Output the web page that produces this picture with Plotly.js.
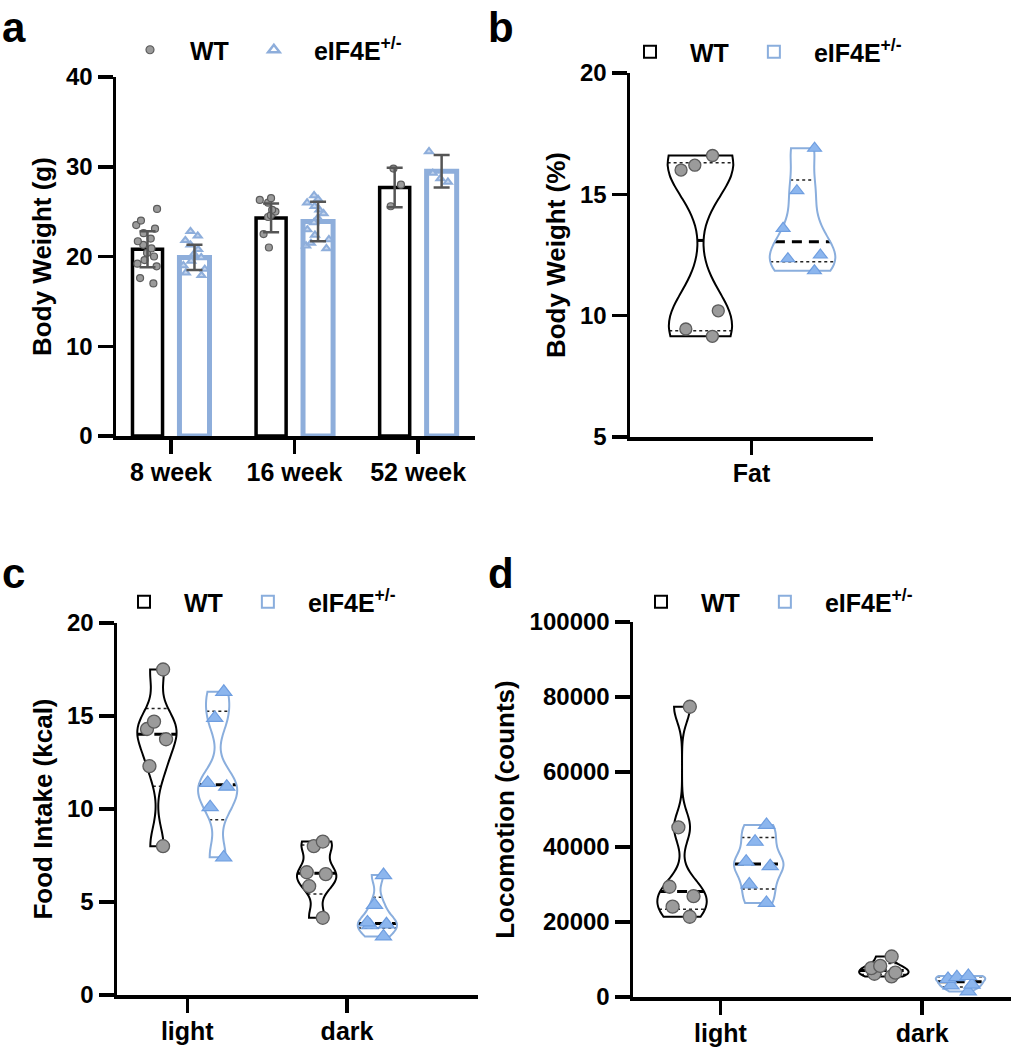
<!DOCTYPE html>
<html>
<head>
<meta charset="utf-8">
<script src="https://cdn.plot.ly/plotly-3.0.1.min.js"></script>
<style>
  body { margin: 0; background: #fff; }
  #chart { width: 1011px; height: 1050px; }
</style>
</head>
<body>
<div id="chart"></div>
<script>
// panel a: body weight per age (individual mice, bar mean, SD)
const ages = ['8 week', '16 week', '52 week'];
const wtWeight = [
  [25.3, 24.0, 23.5, 23.1, 22.6, 22.0, 21.7, 21.3, 20.9, 20.4, 20.0, 19.6, 19.2, 18.9, 17.6, 17.0],
  [26.5, 26.3, 26.0, 25.2, 25.0, 24.6, 24.4, 22.5, 21.0],
  [29.8, 28.0, 25.6]
];
const mutWeight = [
  [22.8, 22.3, 21.8, 21.3, 20.8, 20.3, 19.9, 19.5, 19.0, 18.6, 18.2, 17.9],
  [26.8, 26.4, 26.0, 25.6, 25.2, 24.8, 24.3, 23.8, 23.0, 22.4, 21.9, 21.5, 21.2, 20.9],
  [31.7, 29.3, 28.7, 28.3]
];
const wtMean = [20.8, 24.3, 27.7];
const wtSD = [2.0, 1.6, 2.2];
const mutMean = [19.9, 23.9, 29.5];
const mutSD = [1.4, 2.2, 1.8];

// panel b: fat as % of body weight
const fatLabels = ['Fat'];
const fatWT = [[16.6, 16.2, 16.0, 10.2, 9.45, 9.15]];
const fatMut = [[16.9, 15.15, 13.6, 12.5, 12.35, 11.85]];

// panel c: food intake (kcal)
const periods = ['light', 'dark'];
const foodWT = [[17.5, 14.7, 14.3, 13.75, 12.3, 8.0], [8.25, 8.0, 6.6, 6.5, 5.85, 4.15]];
const foodMut = [[16.3, 14.9, 11.4, 11.2, 10.1, 7.4], [6.45, 4.85, 3.9, 3.8, 3.75, 3.15]];

// panel d: locomotion (counts)
const locoWT = [[77400, 45250, 29400, 26900, 24100, 21400], [10800, 8300, 7700, 6500, 6200, 5500]];
const locoMut = [[45900, 41400, 36100, 34900, 30000, 25100], [5600, 5300, 4800, 3300, 3100, 1500]];

const FONT = 'Liberation Sans, Arial, sans-serif';
const GRAY_FILL = '#9b9b9b', GRAY_LINE = '#5c5c5c';
const BLUE_BAR = '#8eaedb', BLUE_VIO = '#8aaedd';
const TRI_FILL = '#8cb6ee', TRI_LINE = '#6f9ee0';
const ERR = '#555555';
const legendName = ['WT', 'eIF4E<sup>+/-</sup>'];

let traces = [];
let shapes = [];

// ---- panel a ----
const aOff = 0.19;
traces.push({
  type: 'bar', x: ages.map((_, i) => i), y: wtMean, xaxis: 'x', yaxis: 'y',
  marker: {color: 'rgba(255,255,255,0)', line: {color: '#000', width: 3.5}},
  showlegend: false, hoverinfo: 'skip'
});
traces.push({
  type: 'bar', x: ages.map((_, i) => i), y: mutMean, xaxis: 'x', yaxis: 'y',
  marker: {color: 'rgba(255,255,255,0)', line: {color: BLUE_BAR, width: 5}},
  showlegend: false, hoverinfo: 'skip'
});

function flatX(groups) { return groups.flatMap((g, i) => g.map(() => i)); }
traces.push({
  type: 'box', x: flatX(wtWeight), y: wtWeight.flat(), xaxis: 'x', yaxis: 'y',
  boxpoints: 'all', jitter: 0.9, pointpos: 0,
  line: {color: 'rgba(0,0,0,0)', width: 0}, fillcolor: 'rgba(0,0,0,0)',
  marker: {symbol: 'circle', size: 7, color: GRAY_FILL, line: {color: GRAY_LINE, width: 1.2}},
  showlegend: false, hoverinfo: 'skip'
});
traces.push({
  type: 'box', x: flatX(mutWeight), y: mutWeight.flat(), xaxis: 'x', yaxis: 'y',
  boxpoints: 'all', jitter: 0.9, pointpos: 0,
  line: {color: 'rgba(0,0,0,0)', width: 0}, fillcolor: 'rgba(0,0,0,0)',
  marker: {symbol: 'triangle-up', size: 7, color: '#c4d5ee', line: {color: BLUE_BAR, width: 2}},
  showlegend: false, hoverinfo: 'skip'
});
// SD error bars on top of the points
[[wtMean, wtSD, -aOff], [mutMean, mutSD, aOff]].forEach(([m, sd, off]) => {
  traces.push({
    type: 'scatter', mode: 'markers', x: m.map((_, i) => i + off), y: m,
    xaxis: 'x', yaxis: 'y', marker: {size: 1, opacity: 0},
    error_y: {type: 'data', array: sd, visible: true, color: ERR, thickness: 2.5, width: 8},
    showlegend: false, hoverinfo: 'skip'
  });
});
// legend entries for panel a
traces.push({
  type: 'scatter', mode: 'markers', x: [null], y: [null], xaxis: 'x', yaxis: 'y',
  name: legendName[0], legend: 'legend',
  marker: {symbol: 'circle', size: 8, color: GRAY_FILL, line: {color: GRAY_LINE, width: 1.2}}
});
traces.push({
  type: 'scatter', mode: 'markers', x: [null], y: [null], xaxis: 'x', yaxis: 'y',
  name: legendName[1], legend: 'legend',
  marker: {symbol: 'triangle-up-open', size: 10, color: BLUE_BAR, line: {color: BLUE_BAR, width: 2.5}}
});

// ---- violin helpers ----
function kdeFn(vals, bw) {
  return t => vals.reduce((s, v) => s + Math.exp(-0.5 * ((t - v) / bw) ** 2), 0);
}
function halfWidthFn(vals, bw, halfW) {
  const f = kdeFn(vals, bw);
  const lo = Math.min(...vals), hi = Math.max(...vals);
  const n = Math.ceil((hi - lo) / (bw / 3)), step = (hi - lo) / n;
  let maxK = 0;
  for (let k = 0; k <= n; k++) maxK = Math.max(maxK, f(lo + k * step));
  return t => halfW * f(t) / maxK;
}
// quartiles the (n+1) way, as the original software does
function quantile(vals, p) {
  const s = [...vals].sort((a, b) => a - b), n = s.length;
  const r = p * (n + 1) - 1, i = Math.floor(r), fr = r - i;
  if (i < 0) return s[0];
  if (i >= n - 1) return s[n - 1];
  return s[i] + fr * (s[i + 1] - s[i]);
}

let vid = 0;
function addViolins(groups, opts) {
  groups.forEach((vals, i) => {
    const c = i + opts.off;
    const bw = opts.bw[i];
    traces.push({
      type: 'violin', x0: c, y: vals, xaxis: opts.xa, yaxis: opts.ya,
      width: opts.width, bandwidth: bw, spanmode: 'hard', side: 'both',
      scalemode: 'width', scalegroup: 'v' + (vid++),
      line: {color: opts.lineColor, width: opts.lineWidth},
      fillcolor: 'rgba(255,255,255,0)',
      points: 'all', pointpos: 0, jitter: opts.jitter,
      marker: opts.marker,
      box: {visible: false}, meanline: {visible: false},
      name: opts.name, legend: opts.legend, legendgroup: opts.legend + opts.name,
      showlegend: i === 0, hoverinfo: 'skip'
    });
    const hw = halfWidthFn(vals, bw, opts.width / 2);
    const seg = (y, style) => {
      const w = hw(y);
      shapes.push({
        type: 'line', xref: opts.xa, yref: opts.ya, layer: 'below',
        x0: c - w, x1: c + w, y0: y, y1: y, line: style
      });
    };
    seg(quantile(vals, 0.25), {color: '#222', width: 1.5, dash: 'dot'});
    seg(quantile(vals, 0.75), {color: '#222', width: 1.5, dash: 'dot'});
    seg(quantile(vals, 0.5), {color: '#000', width: 3, dash: '10px,7px'});
  });
}

const circleMarker = {symbol: 'circle', size: 13, color: GRAY_FILL, line: {color: GRAY_LINE, width: 1.3}};
const triMarker = {symbol: 'triangle-up', size: 14, color: TRI_FILL, line: {color: TRI_LINE, width: 1.2}};

// ---- panel b ----
addViolins(fatWT, {xa: 'x2', ya: 'y2', off: -0.21, width: 0.27, bw: [1.3], jitter: 0.7,
  lineColor: '#000', lineWidth: 2, marker: {...circleMarker, size: 12}, name: legendName[0], legend: 'legend2'});
addViolins(fatMut, {xa: 'x2', ya: 'y2', off: 0.21, width: 0.27, bw: [0.8], jitter: 0.7,
  lineColor: BLUE_VIO, lineWidth: 2, marker: {...triMarker, size: 12}, name: legendName[1], legend: 'legend2'});

// ---- panel c ----
addViolins(foodWT, {xa: 'x3', ya: 'y3', off: -0.19, width: 0.245, bw: [1.0, 0.6], jitter: 0.6,
  lineColor: '#000', lineWidth: 2, marker: circleMarker, name: legendName[0], legend: 'legend3'});
addViolins(foodMut, {xa: 'x3', ya: 'y3', off: 0.19, width: 0.245, bw: [0.9, 0.5], jitter: 0.6,
  lineColor: BLUE_VIO, lineWidth: 2, marker: triMarker, name: legendName[1], legend: 'legend3'});

// ---- panel d ----
addViolins(locoWT, {xa: 'x4', ya: 'y4', off: -0.19, width: 0.245, bw: [4000, 1200], jitter: 0.6,
  lineColor: '#000', lineWidth: 2, marker: circleMarker, name: legendName[0], legend: 'legend4'});
addViolins(locoMut, {xa: 'x4', ya: 'y4', off: 0.19, width: 0.245, bw: [3000, 1000], jitter: 0.6,
  lineColor: BLUE_VIO, lineWidth: 2, marker: triMarker, name: legendName[1], legend: 'legend4'});

// ---- layout ----
const W = 1011, H = 1050;
const px = v => v / W, py = v => 1 - v / H;

function xAxis(left, right, range, labels, anchor) {
  return {
    domain: [px(left), px(right)], range: range, anchor: anchor,
    tickvals: labels.map((_, i) => i), ticktext: labels,
    tickfont: {size: 25},
    showline: true, linecolor: '#000', linewidth: 3.5,
    ticks: 'outside', ticklen: 14, tickwidth: 3.5, tickcolor: '#000',
    ticklabelstandoff: -3,
    showgrid: false, zeroline: false, fixedrange: true
  };
}
function yAxis(top, bottom, range, dtick, title, anchor, extra) {
  return Object.assign({
    domain: [py(bottom), py(top)], range: range, dtick: dtick, anchor: anchor,
    title: {text: title, standoff: 8, font: {size: 26}},
    tickfont: {size: 24},
    showline: true, linecolor: '#000', linewidth: 3.5,
    ticks: 'outside', ticklen: 15, tickwidth: 3.5, tickcolor: '#000',
    showgrid: false, zeroline: false, fixedrange: true
  }, extra || {});
}
function legendAt(left, mid) {
  return {
    x: px(left), y: py(mid), xanchor: 'left', yanchor: 'middle',
    orientation: 'h', bgcolor: 'rgba(0,0,0,0)', itemwidth: 70,
    font: {family: FONT, size: 25, color: '#000', weight: 'bold'}
  };
}
function letter(t, x, y) {
  return {
    text: t, xref: 'paper', yref: 'paper', x: px(x), y: py(y),
    xanchor: 'left', yanchor: 'top', showarrow: false,
    font: {family: FONT, size: 42, color: '#000', weight: 'bold'}
  };
}

const layout = {
  width: W, height: H,
  margin: {l: 0, r: 0, t: 0, b: 0},
  paper_bgcolor: '#fff', plot_bgcolor: 'rgba(0,0,0,0)',
  font: {family: FONT, size: 24, color: '#000', weight: 'bold'},
  barmode: 'group', bargap: 0.24, bargroupgap: 0.36,
  boxmode: 'group', boxgap: 0.24, boxgroupgap: 0.36,
  violinmode: 'overlay',
  xaxis: xAxis(116, 475, [-0.445, 2.46], ages, 'y'),
  yaxis: yAxis(77, 436, [0, 40], 10, 'Body Weight (g)', 'x'),
  xaxis2: xAxis(630, 873, [-0.5, 0.5], fatLabels, 'y2'),
  yaxis2: yAxis(73, 437, [5, 20], 5, 'Body Weight (%)', 'x2'),
  xaxis3: xAxis(117, 478, [-0.44, 1.82], periods, 'y3'),
  yaxis3: yAxis(623, 995, [0, 20], 5, 'Food Intake (kcal)', 'x3'),
  xaxis4: xAxis(633, 1011, [-0.433, 1.44], periods, 'y4'),
  yaxis4: yAxis(622, 997, [0, 100000], 20000, 'Locomotion (counts)', 'x4', {tickformat: 'd'}),
  legend: legendAt(110, 50),
  legend2: legendAt(610, 52),
  legend3: legendAt(104, 602),
  legend4: legendAt(621, 602),
  shapes: shapes,
  annotations: [letter('a', 0, 2), letter('b', 486, 2), letter('c', 0, 548), letter('d', 486, 548)],
  showlegend: true
};

Plotly.newPlot('chart', traces, layout, {displayModeBar: false, staticPlot: true});
</script>
</body>
</html>
